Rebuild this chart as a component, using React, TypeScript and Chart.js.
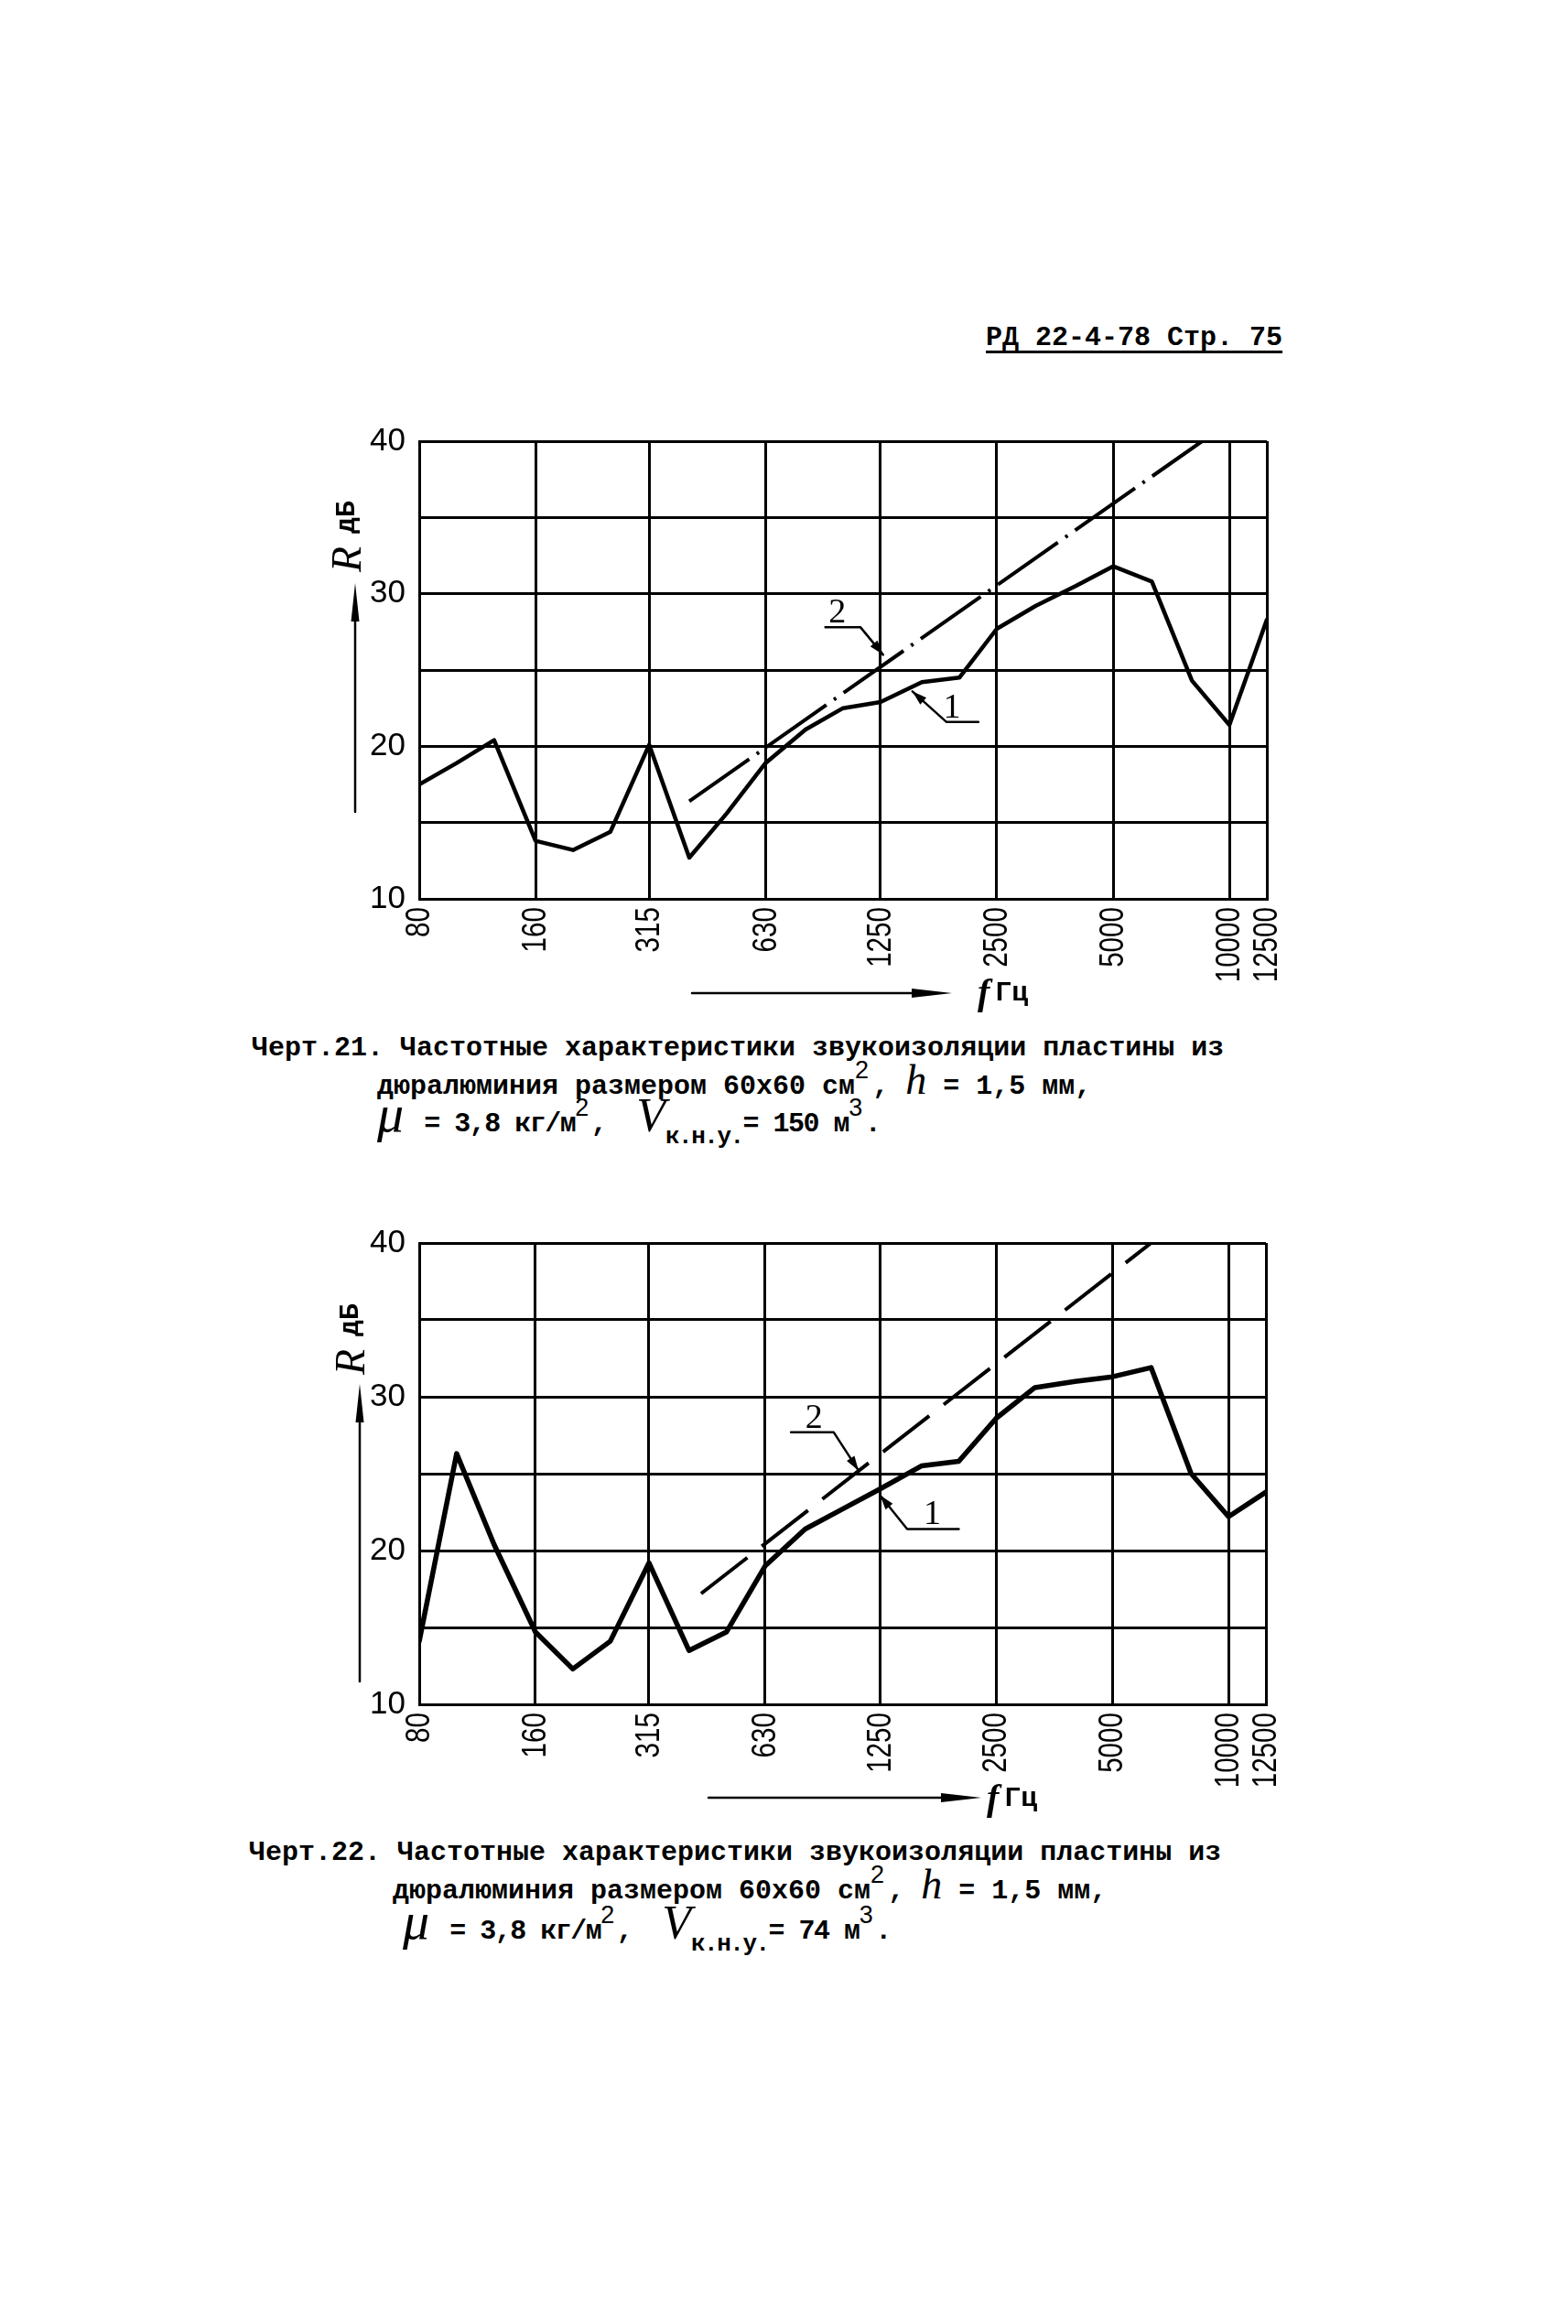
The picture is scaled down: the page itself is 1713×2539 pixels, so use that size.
import React, { useEffect, useRef } from 'react';
import { Chart, registerables } from 'chart.js';

Chart.register(...registerables);

// ---------- data ----------
const FREQ = [80, 100, 125, 160, 200, 250, 315, 400, 500, 630, 800, 1000, 1250, 1600, 2000, 2500, 3150, 4000, 5000, 6300, 8000, 10000, 12500];
const X_TICKS = [80, 160, 315, 630, 1250, 2500, 5000, 10000, 12500];
const Y_MIN = 10;
const Y_MAX = 40;
const Y_STEP = 5;

// Черт.21
const C1_CURVE1 = [17.5, 18.9, 20.4, 13.8, 13.2, 14.4, 20.1, 12.7, 15.6, 18.9, 21.1, 22.5, 22.9, 24.2, 24.5, 27.7, 29.2, 30.5, 31.8, 30.8, 24.3, 21.4, 28.3];
const C1_LINE2_F = [400, 8500];
const C1_LINE2_R = [16.4, 40];
const C1_LEAD2 = [[900, 27.8], [1110, 27.8], [1270, 26.0]];
const C1_LEAD1 = [[2240, 21.6], [1850, 21.6], [1512, 23.6]];
const C1_LABEL2 = [967, 28.1];
const C1_LABEL1 = [1914, 21.9];

// Черт.22
const C2_CURVE1 = [14.1, 26.3, 20.4, 14.7, 12.3, 14.1, 19.2, 13.5, 14.7, 19.0, 21.4, 22.7, 24.0, 25.5, 25.8, 28.6, 30.6, 31.0, 31.3, 31.9, 25.0, 22.2, 23.8];
const C2_LINE2_F = [430, 6300];
const C2_LINE2_R = [17.2, 40];
const C2_LEAD2 = [[735, 27.7], [948, 27.7], [1100, 25.2]];
const C2_LEAD1 = [[2000, 21.4], [1470, 21.4], [1250, 23.6]];
const C2_LABEL2 = [843, 28.0];
const C2_LABEL1 = [1707, 21.7];

// ---------- layout ----------
const CANVAS_LEFT = 330;
const CANVAS_W = 1090;
const CANVAS_H = 660;
const TICK_FONT = '"Liberation Sans", Arial, sans-serif';

type Cfg = {
  canvasTop: number;
  padTop: number;
  padRight: number;
  xAxisH: number;
  curve: number[];
  line2F: number[];
  line2R: number[];
  dash: number[];
  curveWidth: number;
  lead1: number[][];
  lead2: number[][];
  label1: number[];
  label2: number[];
  yArrow: { x: number; y1: number; y2: number };
  yTitle: { x: number; y: number };
  xArrow: { x1: number; x2: number; y: number };
  fText: { x: number; y: number };
};

const CFG1: Cfg = {
  canvasTop: 450,
  padTop: 32,
  padRight: 36,
  xAxisH: 128,
  curve: C1_CURVE1,
  line2F: C1_LINE2_F,
  line2R: C1_LINE2_R,
  dash: [80, 10, 3, 10],
  curveWidth: 4.5,
  lead1: C1_LEAD1,
  lead2: C1_LEAD2,
  label1: C1_LABEL1,
  label2: C1_LABEL2,
  yArrow: { x: 388, y1: 637, y2: 887 },
  yTitle: { x: 382, y: 625 },
  xArrow: { x1: 756, x2: 1040, y: 1085 },
  fText: { x: 1068, y: 1085 },
};

const CFG2: Cfg = {
  canvasTop: 1326,
  padTop: 32,
  padRight: 37,
  xAxisH: 124,
  curve: C2_CURVE1,
  line2F: C2_LINE2_F,
  line2R: C2_LINE2_R,
  dash: [64, 20],
  curveWidth: 5.5,
  lead1: C2_LEAD1,
  lead2: C2_LEAD2,
  label1: C2_LABEL1,
  label2: C2_LABEL2,
  yArrow: { x: 393, y1: 1512, y2: 1837 },
  yTitle: { x: 386, y: 1502 },
  xArrow: { x1: 774, x2: 1072, y: 1964 },
  fText: { x: 1078, y: 1965 },
};

function arrowHead(c: CanvasRenderingContext2D, tx: number, ty: number, fx: number, fy: number, len: number, hw: number) {
  const dx = tx - fx;
  const dy = ty - fy;
  const d = Math.hypot(dx, dy) || 1;
  const ux = dx / d;
  const uy = dy / d;
  const bx = tx - ux * len;
  const by = ty - uy * len;
  c.beginPath();
  c.moveTo(tx, ty);
  c.lineTo(bx - uy * hw, by + ux * hw);
  c.lineTo(bx + uy * hw, by - ux * hw);
  c.closePath();
  c.fill();
}

function ChartBlock({ cfg }: { cfg: Cfg }) {
  const ref = useRef<HTMLCanvasElement | null>(null);
  useEffect(() => {
    const canvas = ref.current;
    if (!canvas) return;
    const OX = CANVAS_LEFT;
    const OY = cfg.canvasTop;

    const annot = {
      id: 'annot',
      afterDraw(chart: any) {
        const c: CanvasRenderingContext2D = chart.ctx;
        const xs = chart.scales.x;
        const ys = chart.scales.y;
        const area = chart.chartArea;
        c.save();
        c.fillStyle = '#000';
        c.strokeStyle = '#000';
        c.lineCap = 'round';
        c.lineJoin = 'round';

        // condensed, rotated x tick labels at the scale's tick positions
        for (const v of X_TICKS) {
          const px = xs.getPixelForValue(v);
          c.save();
          c.translate(px, area.bottom + 9);
          c.rotate(-Math.PI / 2);
          c.scale(0.8, 1);
          c.font = `37px ${TICK_FONT}`;
          c.textAlign = 'right';
          c.textBaseline = 'middle';
          c.fillText(String(v), 0, 1);
          c.restore();
        }

        // Y arrow
        c.lineWidth = 2.5;
        c.beginPath();
        c.moveTo(cfg.yArrow.x - OX, cfg.yArrow.y1 - OY + 20);
        c.lineTo(cfg.yArrow.x - OX, cfg.yArrow.y2 - OY);
        c.stroke();
        arrowHead(c, cfg.yArrow.x - OX, cfg.yArrow.y1 - OY, cfg.yArrow.x - OX, cfg.yArrow.y2 - OY, 42, 4.5);

        // Y title (rotated)
        c.save();
        c.translate(cfg.yTitle.x - OX, cfg.yTitle.y - OY);
        c.rotate(-Math.PI / 2);
        c.textBaseline = 'middle';
        c.textAlign = 'left';
        c.font = 'italic 46px "Liberation Serif", serif';
        c.fillText('R', 0, 0);
        const w = c.measureText('R').width;
        c.font = 'bold 30px "Liberation Mono", monospace';
        c.fillText(' дБ', w - 4, -3);
        c.restore();

        // X arrow
        c.lineWidth = 2.5;
        c.beginPath();
        c.moveTo(cfg.xArrow.x1 - OX, cfg.xArrow.y - OY);
        c.lineTo(cfg.xArrow.x2 - OX - 20, cfg.xArrow.y - OY);
        c.stroke();
        arrowHead(c, cfg.xArrow.x2 - OX, cfg.xArrow.y - OY, cfg.xArrow.x1 - OX, cfg.xArrow.y - OY, 44, 5);

        // f Гц
        c.textBaseline = 'middle';
        c.textAlign = 'left';
        c.font = 'italic bold 40px "Liberation Serif", serif';
        c.fillText('f', cfg.fText.x - OX, cfg.fText.y - OY + 2);
        const fw = c.measureText('f').width;
        c.font = 'bold 30px "Liberation Mono", monospace';
        c.fillText('Гц', cfg.fText.x - OX + fw + 6, cfg.fText.y - OY);

        // leaders
        const drawLeader = (pts: number[][]) => {
          const p = pts.map(([f, r]) => [xs.getPixelForValue(f), ys.getPixelForValue(r)]);
          c.lineWidth = 2.5;
          c.beginPath();
          c.moveTo(p[0][0], p[0][1]);
          for (let i = 1; i < p.length; i++) c.lineTo(p[i][0], p[i][1]);
          c.stroke();
          const n = p.length;
          arrowHead(c, p[n - 1][0], p[n - 1][1], p[n - 2][0], p[n - 2][1], 16, 5);
        };
        drawLeader(cfg.lead2);
        drawLeader(cfg.lead1);

        // labels
        c.font = '38px "Liberation Serif", serif';
        c.textAlign = 'center';
        c.textBaseline = 'alphabetic';
        c.fillText('2', xs.getPixelForValue(cfg.label2[0]), ys.getPixelForValue(cfg.label2[1]));
        c.fillText('1', xs.getPixelForValue(cfg.label1[0]), ys.getPixelForValue(cfg.label1[1]));
        c.restore();
      },
    };

    const chart = new Chart(canvas, {
      type: 'line',
      data: {
        datasets: [
          {
            data: FREQ.map((f, i) => ({ x: f, y: cfg.curve[i] })),
            borderColor: '#000',
            borderWidth: cfg.curveWidth,
            pointRadius: 0,
            tension: 0,
            fill: false,
            borderJoinStyle: 'round',
            borderCapStyle: 'round',
          },
          {
            data: cfg.line2F.map((f, i) => ({ x: f, y: cfg.line2R[i] })),
            borderColor: '#000',
            borderWidth: 4,
            borderDash: cfg.dash,
            pointRadius: 0,
            tension: 0,
            fill: false,
          },
        ],
      } as any,
      options: {
        responsive: false,
        animation: false,
        events: [],
        layout: { padding: { left: 0, top: cfg.padTop, right: cfg.padRight, bottom: 0 } },
        plugins: { legend: { display: false }, tooltip: { enabled: false }, title: { display: false } },
        scales: {
          x: {
            type: 'logarithmic',
            min: X_TICKS[0],
            max: X_TICKS[X_TICKS.length - 1],
            afterBuildTicks: (s: any) => {
              s.ticks = X_TICKS.map((v) => ({ value: v }));
            },
            afterFit: (s: any) => {
              s.height = cfg.xAxisH;
              s.paddingLeft = 0;
              s.paddingRight = 0;
            },
            grid: { color: '#000', lineWidth: 3, drawTicks: false },
            border: { color: '#000', width: 3 },
            ticks: { display: false, autoSkip: false },
          },
          y: {
            type: 'linear',
            min: Y_MIN,
            max: Y_MAX,
            afterFit: (s: any) => {
              s.width = 128;
              s.paddingTop = 0;
              s.paddingBottom = 0;
            },
            grid: { color: '#000', lineWidth: 3, drawTicks: false },
            border: { color: '#000', width: 3 },
            ticks: {
              stepSize: Y_STEP,
              padding: 15,
              color: '#000',
              font: { family: TICK_FONT, size: 35 },
              callback: (v: any) => (Number(v) % 10 === 0 ? String(v) : ''),
            },
          },
        },
      } as any,
      plugins: [annot],
    });
    return () => chart.destroy();
  }, [cfg]);
  return (
    <canvas
      ref={ref}
      width={CANVAS_W}
      height={CANVAS_H}
      style={{ position: 'absolute', left: CANVAS_LEFT, top: cfg.canvasTop, width: CANVAS_W, height: CANVAS_H }}
    />
  );
}

const mono: React.CSSProperties = {
  position: 'absolute',
  fontFamily: '"Liberation Mono", monospace',
  fontWeight: 'bold',
  fontSize: 30,
  lineHeight: '30px',
  whiteSpace: 'pre',
  color: '#000',
};
const sup: React.CSSProperties = { fontSize: 27, position: 'relative', top: -17, lineHeight: '0px', fontWeight: 'normal', fontFamily: '"Liberation Sans", sans-serif' };
const sub: React.CSSProperties = { fontSize: 26, position: 'relative', top: 13, lineHeight: '0px' };
const ital = (size: number): React.CSSProperties => ({
  fontFamily: '"Liberation Serif", serif',
  fontStyle: 'italic',
  fontWeight: 'normal',
  fontSize: size,
  lineHeight: '0px',
  letterSpacing: 0,
});

function Caption({ num, vol, x1, y1, x2, y2, x3, y3 }: { num: string; vol: string; x1: number; y1: number; x2: number; y2: number; x3: number; y3: number }) {
  return (
    <>
      <div style={{ ...mono, left: x1, top: y1 }}>{`Черт.${num}. Частотные характеристики звукоизоляции пластины из`}</div>
      <div style={{ ...mono, left: x2, top: y2 }}>
        {'дюралюминия размером 60х60 см'}
        <span style={{ ...sup, marginRight: 4 }}>2</span>
        {', '}
        <span style={ital(46)}>h</span>
        {' = 1,5 мм,'}
      </div>
      <div style={{ ...mono, left: x3, top: y3, letterSpacing: -1.5 }}>
        <span style={{ ...ital(58), marginRight: 22 }}>μ</span>
        {'= 3,8 кг/м'}
        <span style={{ ...sup, marginRight: 4 }}>2</span>
        {',  '}
        <span style={ital(52)}>V</span>
        <span style={sub}>к.н.у.</span>
        {`= ${vol} м`}
        <span style={{ ...sup, marginRight: 4 }}>3</span>
        {'.'}
      </div>
    </>
  );
}

export default function App() {
  return (
    <div style={{ position: 'absolute', left: 0, top: 0, width: 1713, height: 2539, background: '#fff', overflow: 'hidden' }}>
      <div style={{ ...mono, left: 1077, top: 354, textDecoration: 'underline', textDecorationThickness: 3, textUnderlineOffset: 6 }}>
        РД 22-4-78 Стр. 75
      </div>
      <ChartBlock cfg={CFG1} />
      <Caption num="21" vol="150" x1={275} y1={1130} x2={412} y2={1172} x3={412} y3={1213} />
      <ChartBlock cfg={CFG2} />
      <Caption num="22" vol="74" x1={272} y1={2009} x2={429} y2={2051} x3={440} y3={2095} />
    </div>
  );
}
